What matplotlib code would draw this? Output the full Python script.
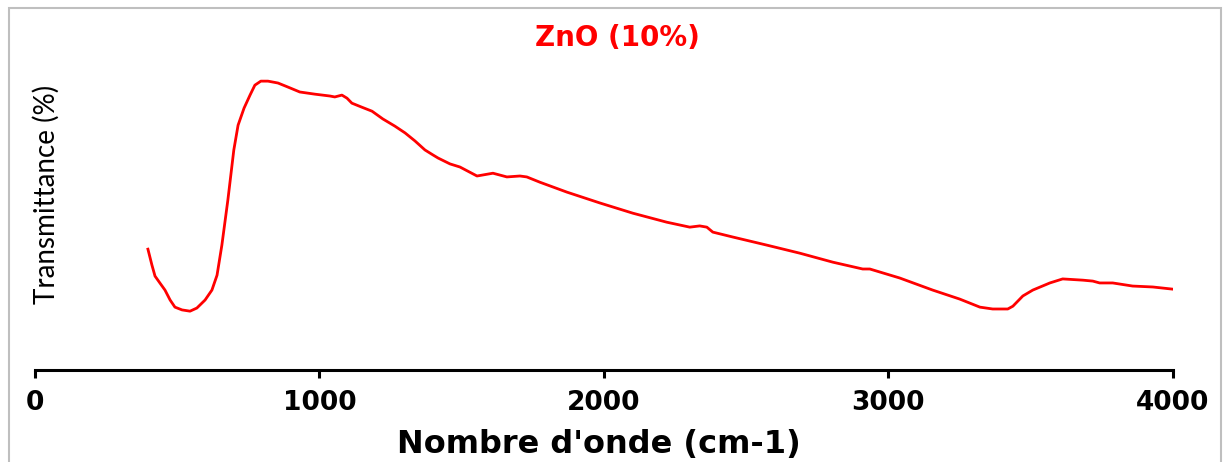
import matplotlib.pyplot as plt
from matplotlib.patches import Rectangle

# FTIR spectrum (wavenumber, transmittance in arbitrary units)
wavenumber = [397, 411, 422, 439, 457, 475, 492, 517, 545, 569, 598, 622, 640, 657,
              678, 699, 714, 735, 756, 773, 794, 819, 854, 889, 931, 984, 1037, 1054,
              1079, 1097, 1114, 1149, 1185, 1223, 1265, 1301, 1336, 1371, 1399, 1417,
              1459, 1494, 1554, 1610, 1659, 1705, 1729, 1775, 1870, 1986, 2102, 2221,
              2302, 2337, 2362, 2383, 2454, 2573, 2689, 2805, 2910, 2935, 3040, 3156,
              3251, 3322, 3367, 3420, 3438, 3473, 3508, 3568, 3613, 3684, 3719, 3743,
              3789, 3859, 3930, 4000]
transmittance = [39.0, 33.9, 30.3, 28.1, 25.8, 22.6, 20.3, 19.4, 19.0, 20.0, 22.6, 25.8,
                 30.6, 40.3, 54.8, 71.0, 79.0, 84.5, 88.7, 91.9, 93.2, 93.2, 92.6, 91.3,
                 89.7, 89.0, 88.4, 88.1, 88.7, 87.7, 86.1, 84.8, 83.5, 81.0, 78.7, 76.5,
                 73.9, 71.0, 69.4, 68.4, 66.5, 65.5, 62.6, 63.5, 62.3, 62.6, 62.3, 60.6,
                 57.4, 53.9, 50.6, 47.7, 46.1, 46.5, 46.1, 44.5, 42.9, 40.3, 37.7, 34.8,
                 32.6, 32.6, 29.7, 25.8, 22.9, 20.3, 19.7, 19.7, 20.6, 23.9, 25.8, 28.1,
                 29.4, 29.0, 28.7, 28.1, 28.1, 27.1, 26.8, 26.1]
xticks = [0, 1000, 2000, 3000, 4000]

fig = plt.figure(figsize=(12.28, 4.62), dpi=100)
ax = fig.add_axes([0.0285, 0.199, 0.9265, 0.671])

ax.plot(wavenumber, transmittance, color='#ff0000', lw=2.0)

ax.set_xlim(0, 4000)
ax.set_ylim(0, 100)
ax.set_xticks(xticks)
ax.set_yticks([])
for s in ['top', 'right', 'left']:
    ax.spines[s].set_visible(False)
ax.spines['bottom'].set_linewidth(2.2)
ax.tick_params(axis='x', direction='out', length=6, width=2.2, pad=8,
               labelsize=19)
for lab in ax.get_xticklabels():
    lab.set_fontweight('bold')

fig.text(0.4876, 1 - 444 / 462, "Nombre d'onde (cm-1)", fontsize=23,
         fontweight='bold', ha='center', va='center')
fig.text(46 / 1228, 1 - 194 / 462, 'Transmittance (%)', fontsize=20,
         family=['Lato', 'DejaVu Sans'], rotation=90, ha='center', va='center')

fig.text(617 / 1228, 1 - 38 / 462, 'ZnO (10%)', color='#ff0000', fontsize=20,
         fontweight='bold', ha='center', va='center')

# grey frame around the whole chart
fig.patches.append(Rectangle((0.0073, -0.01), 0.987, 0.993, transform=fig.transFigure,
                             fill=False, edgecolor='#bfbfbf', lw=1.5))

plt.savefig('out.png', dpi=100)
plt.close()
